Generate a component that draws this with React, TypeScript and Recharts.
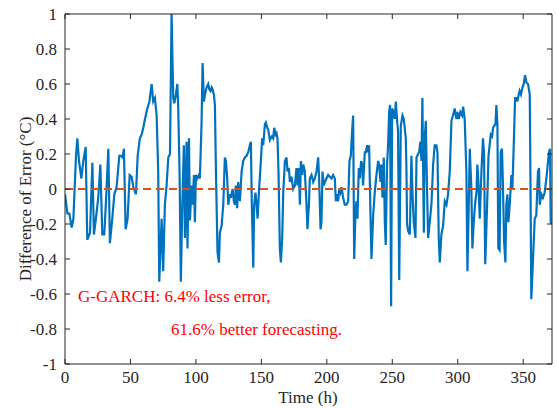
import { Line, LineChart, ReferenceLine, XAxis, YAxis } from "recharts";

// hours where the trace turns
const hours = [
  0, 1.8, 3.3, 5.1, 6.4, 8.4, 9.4, 10.7, 12.5, 14, 15.8, 17, 19.1, 20.9, 22.1, 24.2, 25.4, 27,
  28.5, 30, 31.3, 33.1, 34.3, 36.1, 37.7, 39.4, 41.5, 42.7, 44, 45, 46.3, 47.8, 49.4, 50.9,
  52.2, 54.2, 55.5, 57.2, 58.5, 59.8, 61.1, 62.9, 64.5, 66.2, 67.4, 68.7, 70, 71.2, 72, 73.8,
  75, 76.3, 77.6, 78.9, 80.2, 81.4, 82.7, 83.5, 84.7, 85.8, 86.5, 87.5, 88.5, 89.6, 90.8, 91.6,
  92.9, 93.6, 94.7, 95.4, 96.7, 97.5, 98.5, 99.2, 100, 101, 102.3, 103, 104.3, 105.1, 106.1,
  106.9, 108.1, 109.4, 110.2, 111.2, 112, 112.7, 113.7, 114.5, 115.3, 116.5, 117.6, 118.3,
  119.6, 120.9, 122.1, 122.9, 123.9, 124.7, 126, 126.7, 128, 129, 129.8, 130.5, 131.5, 132.3,
  133.6, 134.9, 136.1, 137.4, 138.7, 140, 141.2, 142, 142.7, 143.8, 144.5, 145.5, 146.3, 147.1,
  148.1, 149.6, 150.6, 151.4, 152.7, 153.4, 154.5, 155.2, 156.5, 157.2, 158, 159, 159.8, 160.8,
  161.6, 162.3, 163.1, 164.1, 164.9, 165.9, 166.7, 168, 169.2, 170, 171, 171.8, 173, 174.3,
  175.6, 176.8, 177.6, 178.6, 179.4, 180.2, 181.2, 182, 183.2, 184.5, 185.2, 186.3, 187, 188.3,
  189.6, 190.8, 192.1, 193.4, 194.1, 195.2, 195.9, 196.7, 197.7, 198.5, 199.7, 201, 202.3,
  203.6, 204.8, 206.1, 206.9, 207.9, 208.7, 209.4, 210.4, 211.2, 212.5, 213.7, 215, 216.3,
  217.3, 218.3, 219.3, 220.1, 220.9, 221.9, 222.6, 223.4, 224.4, 225.2, 226.2, 227, 227.7,
  228.5, 229, 229.8, 230.8, 231.5, 232.3, 233.3, 234.1, 235.4, 236.6, 237.9, 239.2, 239.9, 241,
  241.7, 242.5, 243.5, 244.3, 245, 246, 246.8, 247.6, 248.3, 249.1, 249.9, 250.9, 251.9, 252.7,
  253.7, 254.4, 255.3, 256.5, 257.8, 258.8, 259.5, 260.3, 260.8, 261.3, 262.1, 263.4, 264.6,
  265.4, 266.4, 267.7, 268.5, 269.7, 270.5, 271.5, 272.3, 273, 274.1, 274.8, 275.6, 276.6,
  277.4, 278.6, 279.9, 281.2, 282.4, 283.7, 284.5, 285.5, 286.3, 287.5, 288.8, 290.1, 291.4,
  292.6, 293.9, 295.2, 296.4, 297.7, 299, 299.8, 300.8, 302, 303.3, 304.1, 305.3, 306.6, 307.4,
  308.4, 309.2, 310.4, 311.2, 312.2, 313.2, 314.3, 315, 315.8, 316.8, 318.1, 319.3, 320.1, 321,
  322.4, 323.5, 325.2, 326.2, 327, 327.7, 328.8, 329.5, 330.3, 331, 332, 332.8, 333.8, 334.6,
  335.4, 336.4, 337.1, 337.9, 338.7, 339.7, 341, 341.7, 342.7, 343.8, 344.8, 345.5, 346.6,
  347.3, 348.3, 349.4, 350.4, 351.4, 352.4, 353.7, 355, 355.5, 356.2, 357.5, 358.8, 360, 361.3,
  362.1, 362.6, 363.9, 365.1, 366.4, 367.7, 369, 369.7, 370.5, 371, 372,
];

// difference of error (°C) at those hours
const diffs = [
  -0.03, -0.14, -0.14, -0.22, -0.17, 0.19, 0.29, 0.16, 0.06, 0.16, 0.24, -0.29, -0.25, 0.15,
  -0.26, -0.13, -0.05, 0.14, -0.26, -0.26, -0.07, 0.23, -0.31, -0.17, -0.03, 0.01, 0.19, 0.19,
  0.18, 0.23, -0.23, -0.17, 0.08, 0.07, 0.01, -0.03, 0.19, 0.29, 0.31, 0.35, 0.4, 0.46, 0.5,
  0.6, 0.5, 0.52, 0.42, 0.1, -0.53, -0.17, -0.47, -0.09, 0.02, 0.18, 0.2, 1.0, 0.52, 0.49, 0.54,
  0.6, 0.46, 0.1, -0.53, -0.09, 0.25, -0.28, 0.27, -0.34, 0.29, -0.18, 0.02, -0.09, 0.08, -0.19,
  0.08, 0.06, 0.08, 0.06, 0.37, 0.72, 0.5, 0.54, 0.58, 0.6, 0.57, 0.56, 0.58, 0.57, 0.54, 0.48,
  0.1, -0.36, -0.42, -0.25, -0.21, -0.09, 0.18, 0.16, 0.06, -0.09, -0.03, -0.05, 0.0, -0.07,
  -0.09, 0.02, -0.11, 0.04, -0.07, 0.1, 0.16, 0.18, 0.19, 0.21, 0.25, 0.27, -0.09, -0.45, -0.09,
  -0.02, -0.09, -0.17, -0.02, 0.16, 0.29, 0.25, 0.37, 0.38, 0.35, 0.34, 0.28, 0.29, 0.3, 0.29,
  0.35, 0.31, 0.32, 0.29, 0.1, -0.34, -0.42, -0.28, -0.02, 0.16, 0.18, 0.1, 0.12, 0.04, 0.07,
  0.0, 0.02, 0.12, 0.02, 0.12, -0.09, 0.16, 0.08, 0.14, 0.1, -0.09, -0.23, -0.09, 0.06, 0.08,
  0.04, 0.06, 0.1, 0.18, 0.06, -0.23, -0.19, 0.1, 0.02, 0.04, 0.06, 0.08, 0.07, 0.06, 0.08, 0.06,
  -0.07, -0.03, -0.07, 0.0, -0.02, 0.01, -0.05, -0.09, -0.09, -0.07, 0.16, 0.19, 0.33, 0.42,
  -0.4, -0.13, -0.07, -0.17, 0.12, 0.06, 0.16, 0.14, 0.02, 0.14, 0.21, 0.21, 0.25, 0.21, 0.25,
  -0.13, -0.4, -0.15, -0.02, 0.08, 0.16, 0.14, 0.04, 0.14, -0.05, 0.18, -0.19, -0.32, 0.14, 0.25,
  0.44, 0.48, -0.67, 0.46, 0.44, 0.4, 0.5, 0.39, 0.33, -0.52, 0.36, 0.42, 0.4, 0.35, 0.29, 0.12,
  -0.2, -0.24, -0.26, 0.19, -0.02, -0.19, -0.28, 0.18, 0.2, 0.21, 0.27, 0.16, 0.52, -0.25, 0.29,
  0.39, -0.02, -0.28, -0.19, -0.09, 0.14, 0.25, 0.25, 0.21, -0.28, -0.42, -0.26, -0.21, -0.07,
  -0.09, -0.03, 0.1, 0.39, 0.42, 0.46, 0.4, 0.44, 0.4, 0.44, 0.42, 0.47, 0.4, 0.1, -0.47, -0.09,
  0.23, 0.0, -0.34, -0.19, -0.09, -0.02, 0.14, 0.04, -0.17, 0.1, 0.29, 0.2, -0.43, -0.1, 0.19,
  0.31, 0.3, 0.35, 0.36, 0.37, 0.48, 0.37, -0.34, -0.35, 0.21, 0.23, 0.0, -0.3, -0.42, -0.09,
  -0.03, -0.19, -0.09, 0.08, 0.0, 0.23, 0.52, 0.52, 0.5, 0.54, 0.56, 0.54, 0.58, 0.6, 0.65, 0.61,
  0.6, 0.54, 0.1, -0.63, -0.4, -0.17, -0.15, 0.1, 0.12, -0.09, -0.03, -0.05, -0.02, 0.06, 0.16,
  0.21, 0.23, -0.19, -0.2,
];

const xTicks = [0, 50, 100, 150, 200, 250, 300, 350];
const yTicks = [-1, -0.8, -0.6, -0.4, -0.2, 0, 0.2, 0.4, 0.6, 0.8, 1];
const noteLines = ["G-GARCH: 6.4% less error,", "61.6% better forecasting."];

const data = hours.map((h, i) => ({ h, d: diffs[i] }));

const FONT = "Liberation Serif, DejaVu Serif, serif";
const AXIS = "#262626";
const tickStyle = { fill: AXIS, fontSize: 17, style: { fontFamily: FONT } };
const txt = { fontFamily: FONT, fontSize: 17 };

// top/right box edges keep their tick marks but carry no labels
const NoLabel = () => <g />;

export default function App() {
  return (
    <div style={{ position: "absolute", left: 0, top: 0, width: 557, height: 408, background: "#fff", fontFamily: FONT }}>
      <LineChart width={557} height={408} data={data} margin={{ top: 13, right: 4, bottom: 0, left: 0 }}>
        <XAxis
          dataKey="h"
          type="number"
          domain={[0, 372]}
          ticks={xTicks}
          allowDataOverflow
          height={44}
          stroke={AXIS}
          tickSize={-5}
          tickMargin={12}
          tick={tickStyle}
        />
        <XAxis
          xAxisId="top"
          dataKey="h"
          orientation="top"
          type="number"
          domain={[0, 372]}
          ticks={xTicks}
          allowDataOverflow
          height={1}
          stroke={AXIS}
          tickSize={-5}
          tick={NoLabel}
        />
        <YAxis
          type="number"
          domain={[-1, 1]}
          ticks={yTicks}
          allowDataOverflow
          width={65}
          stroke={AXIS}
          tickSize={-5}
          tickMargin={13}
          tick={tickStyle}
        />
        <YAxis
          yAxisId="right"
          orientation="right"
          type="number"
          domain={[-1, 1]}
          ticks={yTicks}
          allowDataOverflow
          width={1}
          stroke={AXIS}
          tickSize={-5}
          tick={NoLabel}
        />
        <Line
          dataKey="d"
          type="linear"
          stroke="#0072BD"
          strokeWidth={2.2}
          dot={false}
          isAnimationActive={false}
        />
        <ReferenceLine y={0} stroke="#D95319" strokeWidth={2} strokeDasharray="8 5" />
      </LineChart>
      <svg
        width={557}
        height={408}
        style={{ position: "absolute", left: 0, top: 0, pointerEvents: "none" }}
      >
        <text x={25} y={199} transform="rotate(-90 25 199)" textAnchor="middle" dominantBaseline="central" fill={AXIS} style={txt}>
          Difference of Error (°C)
        </text>
        <text x={308} y={403} textAnchor="middle" fill={AXIS} style={txt}>
          Time (h)
        </text>
        <text x={78} y={302} fill="#ff0000" style={txt}>
          {noteLines[0]}
        </text>
        <text x={171} y={335} fill="#ff0000" style={txt}>
          {noteLines[1]}
        </text>
      </svg>
    </div>
  );
}
